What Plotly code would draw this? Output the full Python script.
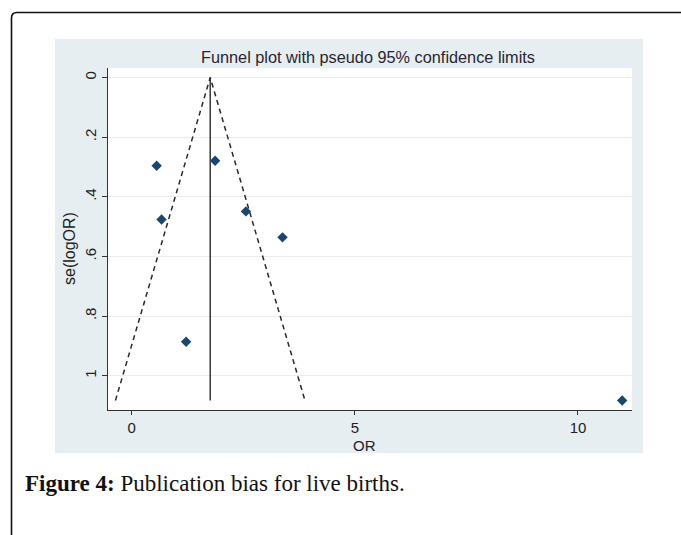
import plotly.graph_objects as go

# Study estimates: odds ratios and standard errors of log(OR)
odds_ratio = [0.56, 1.87, 0.67, 2.56, 3.38, 1.22, 10.99]
se_log_or = [0.296, 0.279, 0.476, 0.449, 0.536, 0.886, 1.083]

# Pooled estimate used as the funnel centre
pooled_or = 1.76
z95 = 1.96

y_ticks = [0, 0.2, 0.4, 0.6, 0.8, 1]
y_tick_text = ["0", ".2", ".4", ".6", ".8", "1"]
x_ticks = [0, 5, 10]
x_tick_text = ["0", "5", "10"]

W, H = 681, 535
M_L, M_R, M_T, M_B = 108, 49, 68, 125
PW, PH = W - M_L - M_R, H - M_T - M_B


def px_x(p):
    return (p - M_L) / PW


def px_y(p):
    return (H - M_B - p) / PH


se_max = max(se_log_or)
fig = go.Figure()

# Pseudo 95% confidence limits
fig.add_trace(go.Scatter(
    x=[pooled_or - z95 * se_max, pooled_or, pooled_or + z95 * se_max],
    y=[se_max, 0, se_max],
    mode="lines",
    line=dict(color="#2a2a2a", width=1.5, dash="5px,4px"),
    hoverinfo="skip", showlegend=False,
))
# Pooled estimate line
fig.add_trace(go.Scatter(
    x=[pooled_or, pooled_or], y=[0, se_max],
    mode="lines", line=dict(color="#2a2a2a", width=1.4),
    hoverinfo="skip", showlegend=False,
))
# Studies
fig.add_trace(go.Scatter(
    x=odds_ratio, y=se_log_or, mode="markers",
    marker=dict(symbol="diamond", size=8, color="#1a476f"),
    showlegend=False,
))

shapes = [
    # graph region background
    dict(type="rect", xref="paper", yref="paper",
         x0=px_x(55), x1=px_x(643), y0=px_y(453), y1=px_y(39),
         fillcolor="#e7eef1", line=dict(width=0), layer="below"),
    # white plot region
    dict(type="rect", xref="paper", yref="paper",
         x0=0, x1=1, y0=0, y1=1,
         fillcolor="white", line=dict(width=0), layer="below"),
    # outer frame with rounded top-left corner
    dict(type="path", xref="paper", yref="paper",
         path=(f"M {px_x(11.5)},{px_y(540)} L {px_x(11.5)},{px_y(18)} "
               f"Q {px_x(11.5)},{px_y(12.5)} {px_x(17)},{px_y(12.5)} "
               f"L {px_x(690)},{px_y(12.5)}"),
         line=dict(color="#111111", width=1.6)),
]

fig.update_layout(
    width=W, height=H,
    margin=dict(l=M_L, r=M_R, t=M_T, b=M_B, autoexpand=False),
    paper_bgcolor="white", plot_bgcolor="rgba(0,0,0,0)",
    shapes=shapes,
    font=dict(family="Liberation Sans, Arial, sans-serif", color="#222222"),
    annotations=[
        dict(text="Funnel plot with pseudo 95% confidence limits",
             xref="paper", yref="paper", x=px_x(368), y=px_y(57),
             xanchor="center", yanchor="middle", showarrow=False,
             font=dict(size=16.3, color="#2a2530")),
        # axis titles
        dict(text="OR", xref="paper", yref="paper",
             x=px_x(364), y=px_y(446), xanchor="center", yanchor="middle",
             showarrow=False, font=dict(size=15)),
        dict(text="se(logOR)", xref="paper", yref="paper",
             x=px_x(70), y=px_y(249), xanchor="center", yanchor="middle",
             textangle=-90, showarrow=False, font=dict(size=16)),
        dict(text="<b>Figure 4:</b> Publication bias for live births.",
             xref="paper", yref="paper", x=px_x(23), y=px_y(483),
             xanchor="left", yanchor="middle", showarrow=False,
             font=dict(family="Liberation Serif, Times New Roman, serif",
                       size=23, color="#111111")),
    ],
    xaxis=dict(
        range=[-0.53, 11.21], tickmode="array", tickvals=x_ticks,
        ticktext=x_tick_text, ticks="outside", ticklen=4, tickcolor="#333",
        showline=True, linecolor="#333", linewidth=1.3, showgrid=False,
        zeroline=False, tickfont=dict(size=15),
        automargin=False,
    ),
    yaxis=dict(
        range=[1.115, -0.032], tickmode="array", tickvals=y_ticks,
        ticktext=y_tick_text, tickangle=-90, ticks="outside", ticklen=5,
        tickcolor="#333", showline=True, linecolor="#333", linewidth=1.3,
        showgrid=True, gridcolor="#ececec", gridwidth=1, zeroline=False,
        tickfont=dict(size=15),
        automargin=False,
    ),
)

fig.write_html("out.html")
